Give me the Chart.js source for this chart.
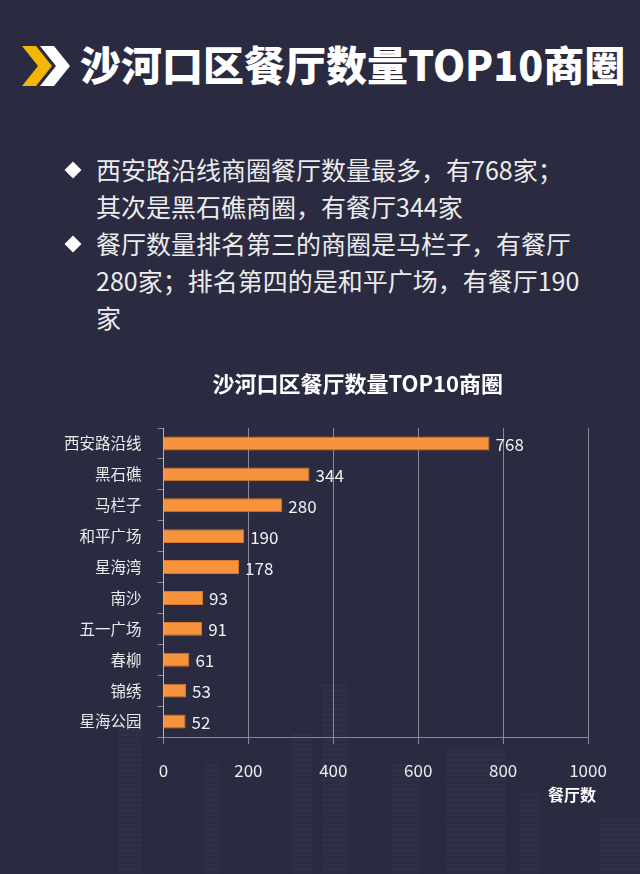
<!DOCTYPE html>
<html>
<head>
<meta charset="utf-8">
<script src="https://cdn.jsdelivr.net/npm/chart.js@4"></script>
<style>
  html, body { margin:0; padding:0; }
  body { width:640px; height:874px; background:#2a2a41; position:relative; overflow:hidden;
         font-family:"Noto Sans CJK SC","Noto Sans",sans-serif; }
  .bld { position:absolute; bottom:0; background:repeating-linear-gradient(180deg, rgba(140,150,190,0.06) 0 2px, rgba(140,150,190,0.02) 2px 5px); }
  #header { position:absolute; left:80px; top:34px; color:#fff; font-size:41px; font-weight:900; line-height:58px; white-space:nowrap; }
  #chev { position:absolute; left:18px; top:41px; }
  #bullets { position:absolute; left:66px; top:151px; color:#ececec; font-size:25px; line-height:37px; white-space:nowrap; }
  #bullets .item { position:relative; padding-left:30px; }
  #bullets .item::before { content:""; position:absolute; left:1px; top:13px; width:12px; height:12px; background:#fff; transform:rotate(45deg); }
  #wrap { position:absolute; left:0; top:360px; width:640px; height:470px; }
</style>
</head>
<body>
<div class="bld" style="left:118px;width:24px;height:150px"></div>
<div class="bld" style="left:205px;width:14px;height:110px"></div>
<div class="bld" style="left:292px;width:20px;height:140px"></div>
<div class="bld" style="left:322px;width:26px;height:190px"></div>
<div class="bld" style="left:392px;width:28px;height:110px"></div>
<div class="bld" style="left:446px;width:60px;height:125px"></div>
<div class="bld" style="left:520px;width:20px;height:80px"></div>
<div class="bld" style="left:600px;width:40px;height:55px"></div>

<svg id="chev" width="56" height="50" viewBox="0 0 56 50">
  <polygon points="4,5 18,5 34,25 18,45 4,45 20,25" fill="#f2b705"/>
  <polygon points="22,5 36,5 52,25 36,45 22,45 38,25" fill="#ffffff"/>
</svg>
<div id="header">沙河口区餐厅数量TOP10商圈</div>
<div id="bullets">
  <div class="item">西安路沿线商圈餐厅数量最多，有768家；<br>其次是黑石礁商圈，有餐厅344家</div>
  <div class="item">餐厅数量排名第三的商圈是马栏子，有餐厅<br>280家；排名第四的是和平广场，有餐厅190<br>家</div>
</div>

<div id="wrap"><canvas id="c"></canvas></div>

<script>
const categories = ["西安路沿线","黑石礁","马栏子","和平广场","星海湾","南沙","五一广场","春柳","锦绣","星海公园"];
const restaurantCounts = [768,344,280,190,178,93,91,61,53,52];
const xTicks = [0,200,400,600,800,1000];
const chartTitle = "沙河口区餐厅数量TOP10商圈";
const xAxisTitle = "餐厅数";

const FONT = '"Noto Sans CJK SC","Noto Sans",sans-serif';
const gridColor = 'rgba(215,215,225,0.55)';

const extras = {
  id: 'extras',
  afterDatasetsDraw(chart) {
    const ctx = chart.ctx;
    const meta = chart.getDatasetMeta(0);
    const area = chart.chartArea;
    ctx.save();
    ctx.fillStyle = '#f0f0f0';
    ctx.font = '17px ' + FONT;
    ctx.textBaseline = 'middle';
    ctx.textAlign = 'left';
    meta.data.forEach((bar, i) => {
      ctx.fillText(String(chart.data.datasets[0].data[i]), bar.x + 6, bar.y + 1);
    });
    ctx.fillStyle = '#ffffff';
    ctx.font = 'bold 22px ' + FONT;
    ctx.textAlign = 'center';
    ctx.fillText(chartTitle, (area.left + area.right) / 2 - 18, area.top - 44);
    ctx.font = 'bold 16px ' + FONT;
    ctx.fillText(xAxisTitle, area.right - 16, area.bottom + 58);
    ctx.restore();
  }
};

new Chart(document.getElementById('c'), {
  type: 'bar',
  data: {
    labels: categories,
    datasets: [{
      data: restaurantCounts,
      backgroundColor: '#f7933d',
      borderColor: '#d9772b',
      borderWidth: 1,
      categoryPercentage: 1.0,
      barPercentage: 0.45
    }]
  },
  options: {
    indexAxis: 'y',
    responsive: true,
    maintainAspectRatio: false,
    animation: false,
    layout: { padding: { left: 48, right: 52, top: 68, bottom: 33 } },
    plugins: {
      legend: { display: false },
      tooltip: { enabled: false },
      title: { display: false }
    },
    scales: {
      x: {
        min: 0, max: 1000,
        afterBuildTicks: (s) => { s.ticks = xTicks.map(v => ({ value: v })); },
        afterFit: (s) => { s.height = 60; },
        grid: { color: gridColor, lineWidth: 1, tickLength: 7, drawTicks: true },
        border: { display: true, color: gridColor },
        ticks: { color: '#eaeaea', font: { family: FONT, size: 17 }, padding: 16,
                 callback: (v) => String(v) }
      },
      y: {
        grid: { drawOnChartArea: false, color: gridColor, tickLength: 6, offset: true },
        border: { display: true, color: gridColor },
        ticks: { color: '#eaeaea', font: { family: FONT, size: 15.5 }, padding: 16 }
      }
    }
  },
  plugins: [extras]
});
</script>
</body>
</html>
